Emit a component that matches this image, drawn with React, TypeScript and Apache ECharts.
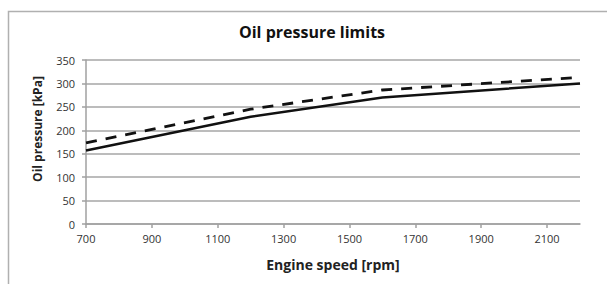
import React, { useEffect, useRef } from "react";
import * as echarts from "echarts";

const lowerLimitRpm = [700, 1200, 1600, 2200];
const lowerLimitKpa = [157, 229, 270, 300];
const upperLimitRpm = [700, 1200, 1600, 2200];
const upperLimitKpa = [173, 245, 286, 313];

const titleText = "Oil pressure limits";
const xName = "Engine speed [rpm]";
const yName = "Oil pressure [kPa]";

const FONT = "'Open Sans', 'Noto Sans', sans-serif";

export default function App() {
  const ref = useRef<HTMLDivElement>(null);
  useEffect(() => {
    if (!ref.current) return;
    const chart = echarts.init(ref.current, null, { renderer: "svg" });
    chart.setOption({
      animation: false,
      backgroundColor: "#ffffff",
      graphic: [
        {
          type: "rect",
          shape: { x: 8.5, y: 11.5, width: 620, height: 300 },
          style: { fill: "none", stroke: "#b0b0b0", lineWidth: 1.5 },
          silent: true,
          z: -1,
        },
        {
          type: "text",
          x: 37,
          y: 129,
          rotation: Math.PI / 2,
          style: {
            text: yName,
            fontFamily: FONT,
            fontSize: 12,
            fontWeight: "bold",
            fill: "#222",
            align: "center",
            verticalAlign: "middle",
          },
          silent: true,
        },
      ],
      title: {
        text: titleText,
        left: 307,
        top: 19,
        textAlign: "center",
        textStyle: { fontFamily: FONT, fontSize: 16, fontWeight: "bold", color: "#111" },
      },
      grid: { left: 86, right: 27, top: 60, bottom: 60, containLabel: false },
      xAxis: {
        type: "value",
        min: 700,
        max: 2200,
        interval: 200,
        name: xName,
        nameLocation: "middle",
        nameGap: 33,
        nameTextStyle: { fontFamily: FONT, fontSize: 14, fontWeight: "bold", color: "#222" },
        axisLine: { show: true, lineStyle: { color: "#a0a0a0", width: 1.5 } },
        axisTick: { show: true, length: 4, inside: false, lineStyle: { color: "#a0a0a0", width: 1.5 } },
        axisLabel: {
          fontFamily: FONT,
          fontSize: 11,
          color: "#333",
          margin: 9,
          showMaxLabel: false,
          formatter: (v: number) => (v === 2200 ? "" : String(v)),
        },
        splitLine: { show: false },
      },
      yAxis: {
        type: "value",
        min: 0,
        max: 350,
        interval: 50,
        axisLine: { show: true, lineStyle: { color: "#a0a0a0", width: 1.5 } },
        axisTick: { show: true, length: 4, lineStyle: { color: "#a0a0a0", width: 1.5 } },
        axisLabel: { fontFamily: FONT, fontSize: 11, color: "#333", margin: 11 },
        splitLine: { show: true, lineStyle: { color: "#a6a6a6", width: 1.5 } },
      },
      series: [
        {
          type: "line",
          name: "lower",
          data: lowerLimitRpm.map((r, i) => [r, lowerLimitKpa[i]]),
          showSymbol: false,
          lineStyle: { color: "#111", width: 2.5 },
          z: 3,
        },
        {
          type: "line",
          name: "upper",
          data: upperLimitRpm.map((r, i) => [r, upperLimitKpa[i]]),
          showSymbol: false,
          lineStyle: { color: "#111", width: 2.8, type: [11, 9] },
          z: 3,
        },
      ],
    });
    return () => chart.dispose();
  }, []);
  return (
    <div
      ref={ref}
      style={{ position: "absolute", left: 0, top: 0, width: 607, height: 284 }}
    />
  );
}
